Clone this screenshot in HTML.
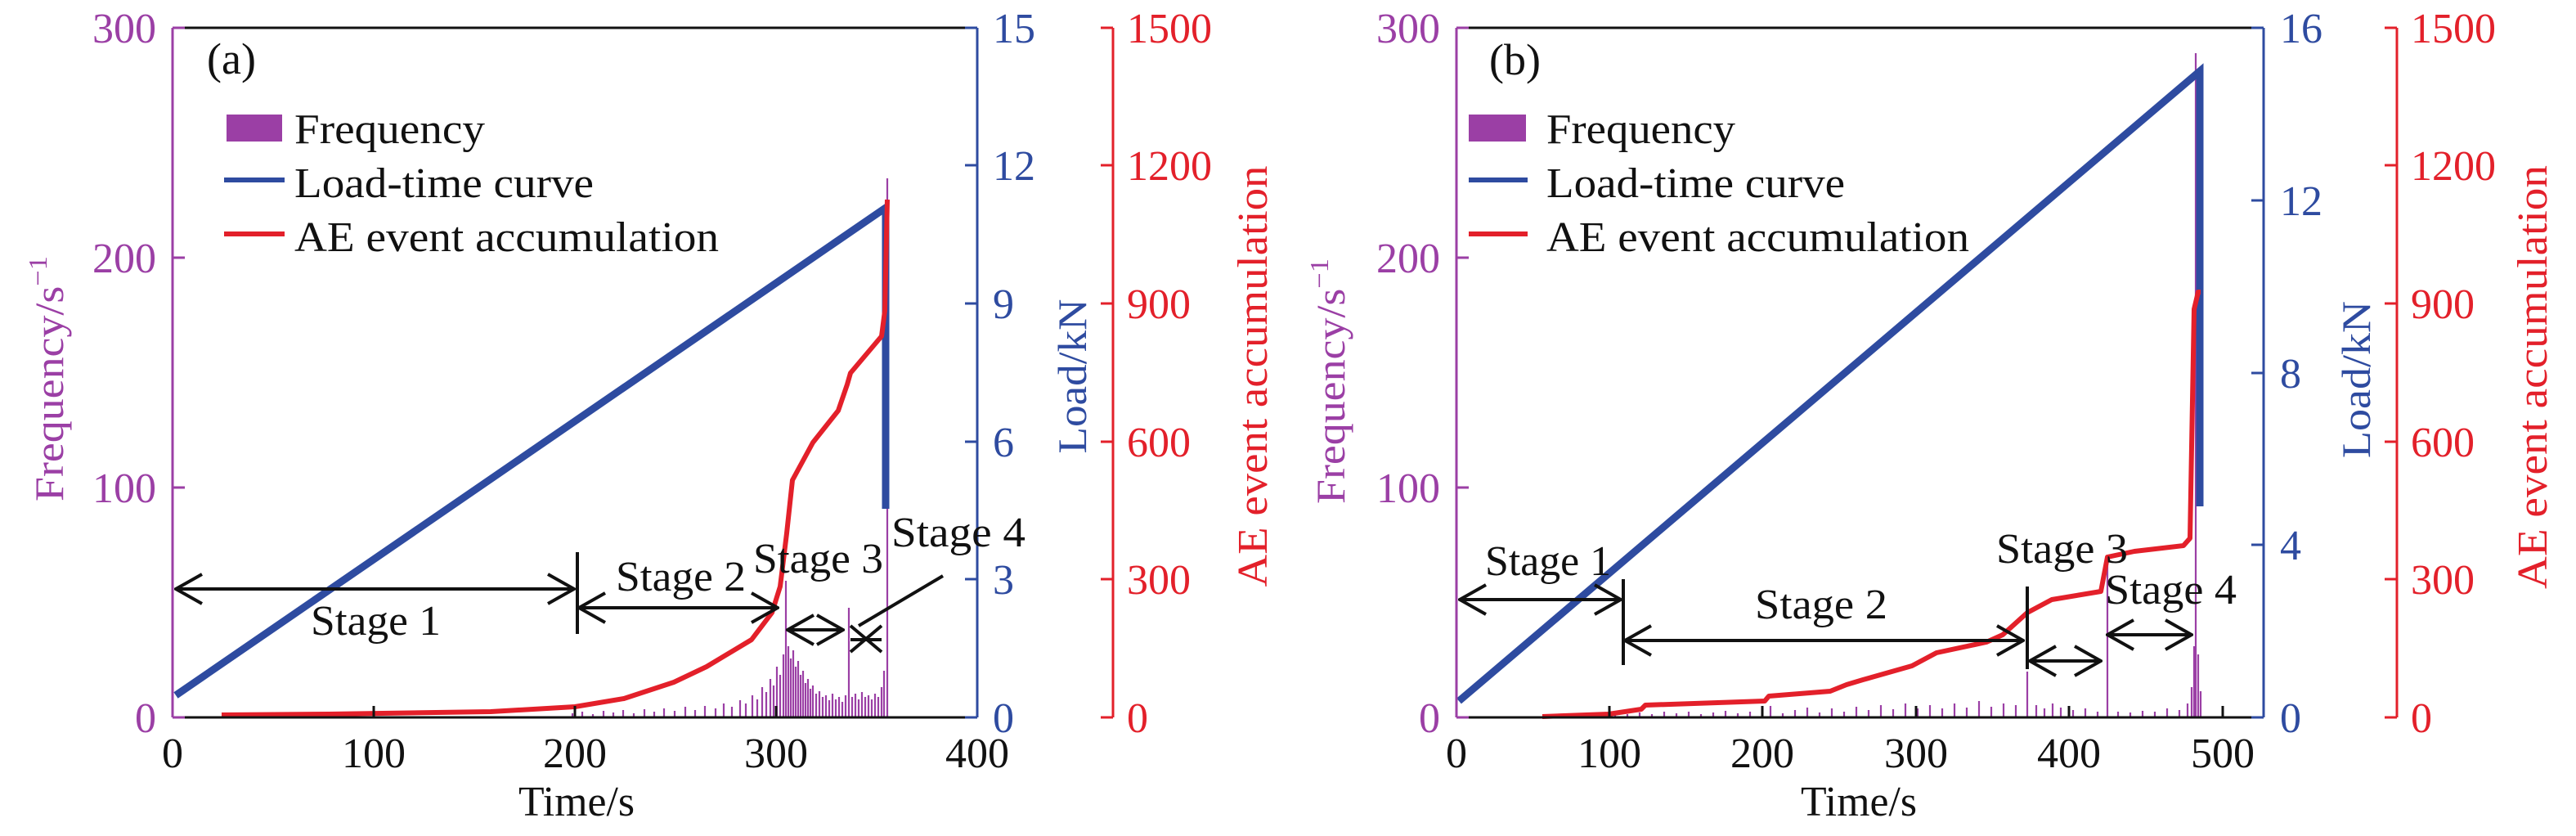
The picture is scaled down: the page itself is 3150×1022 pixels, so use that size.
<!DOCTYPE html>
<html><head><meta charset="utf-8"><style>html,body{margin:0;padding:0;background:#fff}svg{display:block}text{font-family:"Liberation Serif",serif}</style></head><body>
<svg width="3150" height="1022" viewBox="0 0 3150 1022" xmlns="http://www.w3.org/2000/svg">
<defs>
<marker id="ah" viewBox="0 0 40 40" refX="38" refY="20" markerWidth="40" markerHeight="40" markerUnits="userSpaceOnUse" orient="auto-start-reverse"><path d="M6,2 L38,20 L6,38" fill="none" stroke="#111" stroke-width="4"/></marker>
</defs>
<g>
<path stroke="#9b3fa5" stroke-width="2.2" fill="none" d="
M700,877V872 M712,877V870 M725,877V873 M738,877V869 M750,877V871 M762,877V868 M775,877V872 M788,877V867 M800,877V870 M812,877V866 M825,877V869 M838,877V864 M850,877V868 M862,877V863 M875,877V866 M885,877V860 M895,877V864 M905,877V856 M912,877V860 M920,877V850 M926,877V855 M932,877V840 M937,877V846 M942,877V830 M946,877V838 M950,877V815 M954,877V825 M958,877V800 M961,877V710 M964,877V790 M967,877V805 M970,877V795 M973,877V815 M976,877V808 M979,877V825 M982,877V820 M985,877V835 M988,877V830 M991,877V842 M994,877V838 M998,877V848 M1002,877V845 M1006,877V852 M1010,877V850 M1014,877V856 M1018,877V848 M1022,877V855 M1026,877V852 M1030,877V858 M1034,877V850 M1038,877V743 M1042,877V852 M1046,877V848 M1050,877V855 M1054,877V846 M1058,877V852 M1062,877V850 M1066,877V855 M1070,877V848 M1074,877V852 M1078,877V840 M1081,877V820 M1085,877V218"/>
<path d="M215,850 L1083,254 L1083,622" fill="none" stroke="#2e4ba0" stroke-width="9"/>
<path d="M271,874 L402,873 L600,870 L703,864 L763,854 L824,834 L864,815 L919,782 L944,749 L954,717 L962,652 L969,587 L994,541 L1025,502 L1036,470 L1040,456 L1078,411 L1082,380 L1085,244" fill="none" stroke="#e3202a" stroke-width="6" stroke-linejoin="round"/>
<line x1="211" y1="34" x2="1195" y2="34" stroke="#111" stroke-width="3"/>
<line x1="211" y1="877" x2="1195" y2="877" stroke="#111" stroke-width="3"/>
<line x1="211" y1="34" x2="211" y2="877" stroke="#9b3fa5" stroke-width="3"/>
<path d="M211,34h15 M211,315h15 M211,596h15 M211,877h15" stroke="#9b3fa5" stroke-width="3"/>
<line x1="1195" y1="34" x2="1195" y2="877" stroke="#2e4ba0" stroke-width="3"/>
<path d="M1195,34h-15 M1195,202h-15 M1195,371h-15 M1195,540h-15 M1195,708h-15 M1195,877h-15" stroke="#2e4ba0" stroke-width="3"/>
<line x1="1361" y1="34" x2="1361" y2="877" stroke="#e3202a" stroke-width="3"/>
<path d="M1361,34h-15 M1361,202h-15 M1361,371h-15 M1361,540h-15 M1361,708h-15 M1361,877h-15" stroke="#e3202a" stroke-width="3"/>
<path d="M457,877v-14 M703,877v-14 M949,877v-14" stroke="#111" stroke-width="3"/>
<g font-size="52" fill="#9b3fa5" text-anchor="end">
<text x="191" y="52">300</text><text x="191" y="333">200</text><text x="191" y="614">100</text><text x="191" y="895">0</text></g>
<g font-size="52" fill="#2e4ba0"><text x="1214" y="52">15</text><text x="1214" y="220">12</text><text x="1214" y="389">9</text><text x="1214" y="558">6</text><text x="1214" y="726">3</text><text x="1214" y="895">0</text></g>
<g font-size="52" fill="#e3202a"><text x="1378" y="52">1500</text><text x="1378" y="220">1200</text><text x="1378" y="389">900</text><text x="1378" y="558">600</text><text x="1378" y="726">300</text><text x="1378" y="895">0</text></g>
<g font-size="52" fill="#111" text-anchor="middle"><text x="211" y="938">0</text><text x="457" y="938">100</text><text x="703" y="938">200</text><text x="949" y="938">300</text><text x="1195" y="938">400</text>
<text x="705" y="997" textLength="142" lengthAdjust="spacingAndGlyphs">Time/s</text></g>
<text transform="translate(77,463) rotate(-90)" text-anchor="middle" font-size="50" fill="#9b3fa5" textLength="300" lengthAdjust="spacingAndGlyphs">Frequency/s<tspan font-size="32" dy="-20">−1</tspan></text>
<text transform="translate(1328,460) rotate(-90)" text-anchor="middle" font-size="50" fill="#2e4ba0" textLength="189" lengthAdjust="spacingAndGlyphs">Load/kN</text>
<text transform="translate(1549,460) rotate(-90)" text-anchor="middle" font-size="52" fill="#e3202a" textLength="515" lengthAdjust="spacingAndGlyphs">AE event accumulation</text>
<text x="253" y="90" font-size="54" fill="#111">(a)</text>
<rect x="277" y="140" width="68" height="33" fill="#9b3fa5"/>
<line x1="274" y1="220" x2="348" y2="220" stroke="#2e4ba0" stroke-width="6"/>
<line x1="274" y1="286" x2="348" y2="286" stroke="#e3202a" stroke-width="6"/>
<g font-size="52" fill="#111"><text x="360" y="175" textLength="233" lengthAdjust="spacingAndGlyphs">Frequency</text><text x="360" y="241" textLength="366" lengthAdjust="spacingAndGlyphs">Load-time curve</text><text x="360" y="307" textLength="519" lengthAdjust="spacingAndGlyphs">AE event accumulation</text></g>
<g stroke="#111" stroke-width="4" fill="none">
<line x1="215" y1="720" x2="702" y2="720" marker-start="url(#ah)" marker-end="url(#ah)"/>
<line x1="706" y1="675" x2="706" y2="775"/>
<line x1="708" y1="743" x2="951" y2="743" marker-start="url(#ah)" marker-end="url(#ah)"/>
<line x1="963" y1="770" x2="1031" y2="770" marker-start="url(#ah)" marker-end="url(#ah)"/>
<path d="M1040,765 L1078,797 M1040,797 L1078,765 M1040,782 H1078"/>
<line x1="1153" y1="704" x2="1050" y2="765"/>
</g>
<g font-size="52" fill="#111">
<text x="380" y="776" textLength="159" lengthAdjust="spacingAndGlyphs">Stage 1</text>
<text x="753" y="722" textLength="159" lengthAdjust="spacingAndGlyphs">Stage 2</text>
<text x="921" y="700" textLength="159" lengthAdjust="spacingAndGlyphs">Stage 3</text>
<text x="1090" y="668" textLength="164" lengthAdjust="spacingAndGlyphs">Stage 4</text>
</g>
</g>
<g>
<path stroke="#9b3fa5" stroke-width="2.2" fill="none" d="
M1960,877V872 M1975,877V870 M1990,877V873 M2005,877V871 M2020,877V873 M2035,877V870 M2050,877V872 M2065,877V870 M2080,877V873 M2095,877V871 M2110,877V869 M2125,877V872 M2140,877V870 M2165,877V863 M2180,877V872 M2195,877V868 M2210,877V865 M2225,877V871 M2240,877V866 M2255,877V870 M2270,877V864 M2285,877V868 M2300,877V862 M2315,877V867 M2330,877V860 M2345,877V866 M2360,877V862 M2375,877V866 M2390,877V860 M2405,877V865 M2420,877V857 M2435,877V864 M2450,877V860 M2465,877V862 M2479,877V821 M2490,877V862 M2500,877V866 M2510,877V860 M2520,877V865 M2535,877V868 M2550,877V866 M2565,877V870 M2577,877V684 M2590,877V870 M2605,877V871 M2620,877V869 M2635,877V870 M2650,877V866 M2665,877V868 M2675,877V860 M2680,877V840 M2683,877V790 M2685,877V65 M2688,877V800 M2691,877V845"/>
<path d="M1784,857 L2690,87 L2690,619" fill="none" stroke="#2e4ba0" stroke-width="9"/>
<path d="M1886,876 L1967,873 L1987,870 L2007,867 L2012,862 L2158,857 L2163,851 L2238,845 L2258,837 L2278,831 L2338,814 L2368,798 L2429,785 L2449,776 L2479,749 L2509,733 L2569,723 L2577,681 L2610,674 L2670,667 L2678,658 L2683,378 L2688,357 L2691,357" fill="none" stroke="#e3202a" stroke-width="6" stroke-linejoin="round"/>
<line x1="1781" y1="34" x2="2768" y2="34" stroke="#111" stroke-width="3"/>
<line x1="1781" y1="877" x2="2768" y2="877" stroke="#111" stroke-width="3"/>
<line x1="1781" y1="34" x2="1781" y2="877" stroke="#9b3fa5" stroke-width="3"/>
<path d="M1781,34h15 M1781,315h15 M1781,596h15 M1781,877h15" stroke="#9b3fa5" stroke-width="3"/>
<line x1="2768" y1="34" x2="2768" y2="877" stroke="#2e4ba0" stroke-width="3"/>
<path d="M2768,34h-15 M2768,245h-15 M2768,456h-15 M2768,666h-15 M2768,877h-15" stroke="#2e4ba0" stroke-width="3"/>
<line x1="2931" y1="34" x2="2931" y2="877" stroke="#e3202a" stroke-width="3"/>
<path d="M2931,34h-15 M2931,202h-15 M2931,371h-15 M2931,540h-15 M2931,708h-15 M2931,877h-15" stroke="#e3202a" stroke-width="3"/>
<path d="M1968,877v-14 M2155,877v-14 M2343,877v-14 M2530,877v-14 M2718,877v-14" stroke="#111" stroke-width="3"/>
<g font-size="52" fill="#9b3fa5" text-anchor="end">
<text x="1761" y="52">300</text><text x="1761" y="333">200</text><text x="1761" y="614">100</text><text x="1761" y="895">0</text></g>
<g font-size="52" fill="#2e4ba0"><text x="2788" y="52">16</text><text x="2788" y="263">12</text><text x="2788" y="474">8</text><text x="2788" y="684">4</text><text x="2788" y="895">0</text></g>
<g font-size="52" fill="#e3202a"><text x="2948" y="52">1500</text><text x="2948" y="220">1200</text><text x="2948" y="389">900</text><text x="2948" y="558">600</text><text x="2948" y="726">300</text><text x="2948" y="895">0</text></g>
<g font-size="52" fill="#111" text-anchor="middle"><text x="1781" y="938">0</text><text x="1968" y="938">100</text><text x="2155" y="938">200</text><text x="2343" y="938">300</text><text x="2530" y="938">400</text><text x="2718" y="938">500</text>
<text x="2273" y="997" textLength="142" lengthAdjust="spacingAndGlyphs">Time/s</text></g>
<text transform="translate(1644,466) rotate(-90)" text-anchor="middle" font-size="50" fill="#9b3fa5" textLength="300" lengthAdjust="spacingAndGlyphs">Frequency/s<tspan font-size="32" dy="-20">−1</tspan></text>
<text transform="translate(2898,464) rotate(-90)" text-anchor="middle" font-size="50" fill="#2e4ba0" textLength="192" lengthAdjust="spacingAndGlyphs">Load/kN</text>
<text transform="translate(3114,461) rotate(-90)" text-anchor="middle" font-size="52" fill="#e3202a" textLength="518" lengthAdjust="spacingAndGlyphs">AE event accumulation</text>
<text x="1821" y="91" font-size="54" fill="#111">(b)</text>
<rect x="1796" y="140" width="70" height="33" fill="#9b3fa5"/>
<line x1="1796" y1="220" x2="1868" y2="220" stroke="#2e4ba0" stroke-width="6"/>
<line x1="1796" y1="286" x2="1868" y2="286" stroke="#e3202a" stroke-width="6"/>
<g font-size="52" fill="#111"><text x="1891" y="175" textLength="231" lengthAdjust="spacingAndGlyphs">Frequency</text><text x="1891" y="241" textLength="365" lengthAdjust="spacingAndGlyphs">Load-time curve</text><text x="1891" y="307" textLength="517" lengthAdjust="spacingAndGlyphs">AE event accumulation</text></g>
<g stroke="#111" stroke-width="4" fill="none">
<line x1="1785" y1="733" x2="1982" y2="733" marker-start="url(#ah)" marker-end="url(#ah)"/>
<line x1="1985" y1="708" x2="1985" y2="813"/>
<line x1="1987" y1="783" x2="2474" y2="783" marker-start="url(#ah)" marker-end="url(#ah)"/>
<line x1="2479" y1="717" x2="2479" y2="818"/>
<line x1="2482" y1="808" x2="2569" y2="808" marker-start="url(#ah)" marker-end="url(#ah)"/>
<line x1="2577" y1="776" x2="2680" y2="776" marker-start="url(#ah)" marker-end="url(#ah)"/>
</g>
<g font-size="52" fill="#111">
<text x="1816" y="703" textLength="154" lengthAdjust="spacingAndGlyphs">Stage 1</text>
<text x="2146" y="756" textLength="162" lengthAdjust="spacingAndGlyphs">Stage 2</text>
<text x="2441" y="688" textLength="161" lengthAdjust="spacingAndGlyphs">Stage 3</text>
<text x="2574" y="738" textLength="161" lengthAdjust="spacingAndGlyphs">Stage 4</text>
</g>
</g>
</svg>
</body></html>
